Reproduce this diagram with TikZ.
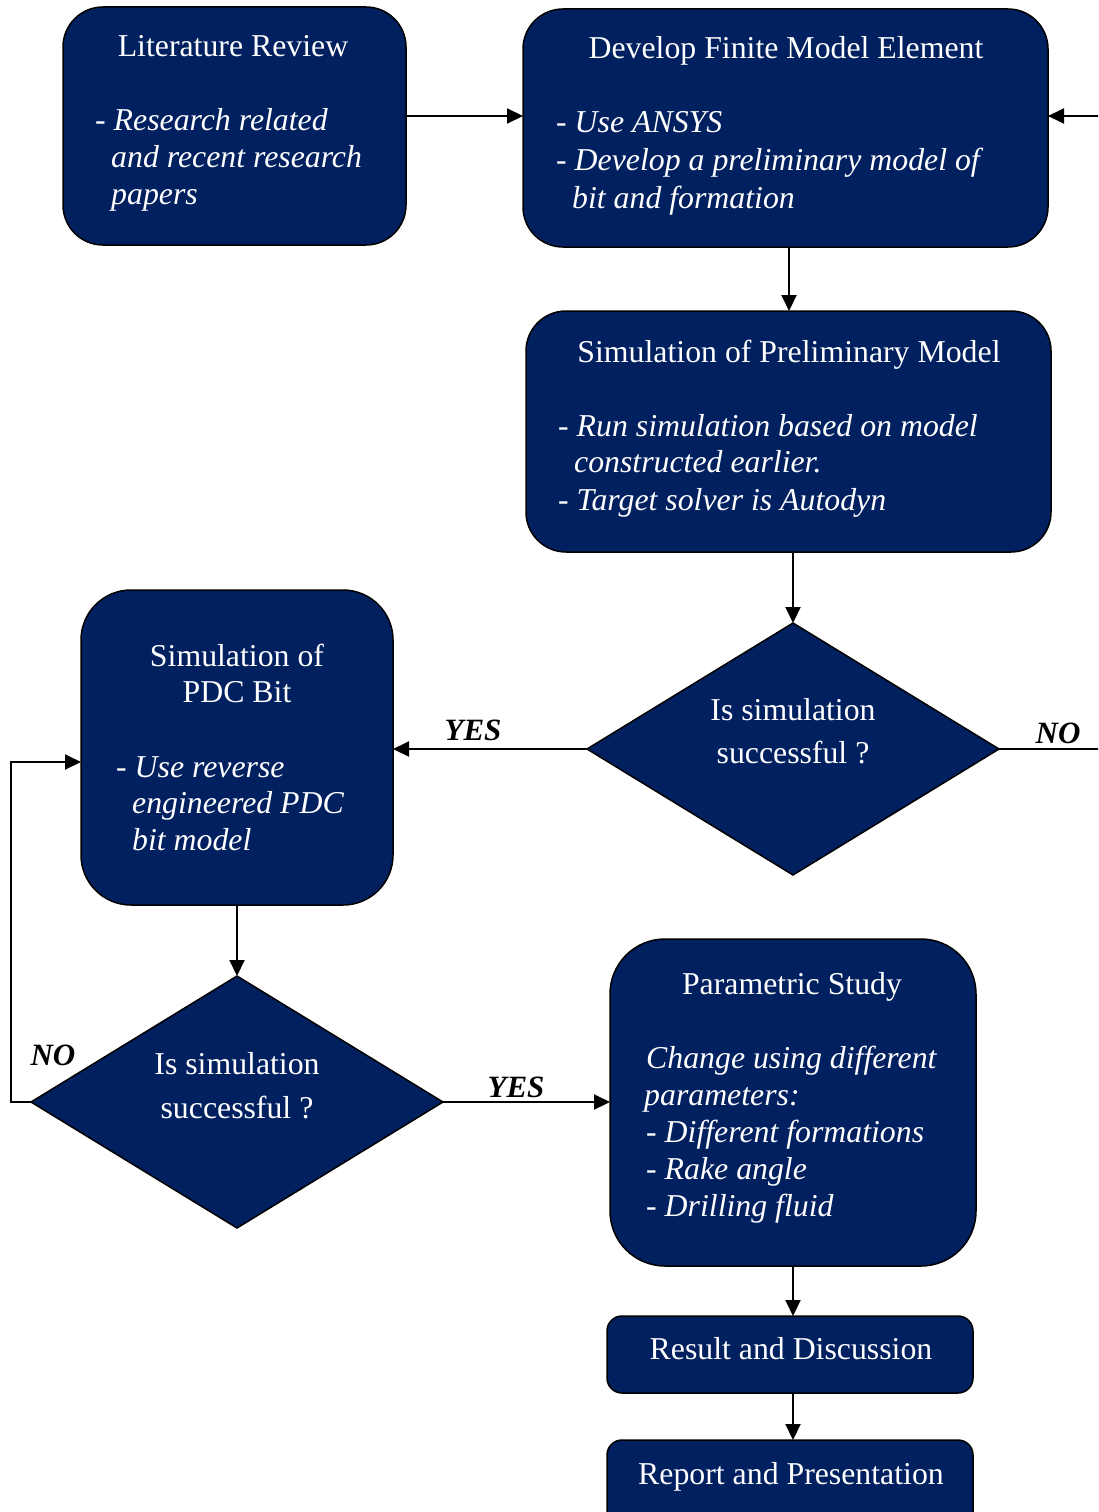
\documentclass[tikz,border=0pt]{standalone}
\usepackage{fontspec}
\setmainfont{Liberation Serif}
\usetikzlibrary{shapes.geometric,arrows.meta}
\definecolor{navy}{HTML}{002060}
\tikzset{
  box/.style={draw=black, line width=1.5pt, fill=navy, inner sep=0pt, outer sep=0pt},
  dia/.style={diamond, draw=black, line width=1.5pt, fill=navy, inner sep=0pt, outer sep=0pt, minimum width=412pt, minimum height=252pt},
  tx/.style={text=white, inner sep=0pt, font=\fontsize{31.8}{37}\selectfont},
  ti/.style={text=white, inner sep=0pt, font=\fontsize{31.8}{37}\selectfont\itshape},
  lab/.style={text=black, inner sep=0pt, font=\fontsize{31}{37}\selectfont\bfseries\itshape},
  conn/.style={line width=2pt, -{Triangle[length=16pt,width=15pt]}},
  plain/.style={line width=2pt}
}
\begin{document}
\begin{tikzpicture}[x=1pt,y=-1pt]
\clip (0,0) rectangle (1098,1512);
\useasboundingbox (0,0) rectangle (1098,1512);
% boxes
\node[box, rounded corners=40pt, minimum width=343pt, minimum height=238pt] (lit) at (234.5,126) {};
\node[box, rounded corners=40pt, minimum width=525pt, minimum height=238pt] (dev) at (785.5,128) {};
\node[box, rounded corners=40pt, minimum width=525pt, minimum height=241pt] (sim) at (788.5,431.5) {};
\node[dia] (d1) at (793,749) {};
\node[box, rounded corners=50pt, minimum width=312pt, minimum height=315pt] (pdc) at (237,747.5) {};
\node[dia] (d2) at (237,1102) {};
\node[box, rounded corners=55pt, minimum width=366pt, minimum height=327pt] (par) at (793,1102.5) {};
\node[box, rounded corners=15pt, minimum width=366pt, minimum height=77pt] (res) at (790,1354.5) {};
\node[box, rounded corners=15pt, minimum width=366pt, minimum height=110pt] (rep) at (790,1495) {};
% texts
\node[tx, anchor=base] (litT) at (233,57) {Literature Review};
\node[ti, anchor=base west] (lit1) at (95,130) {- Research related};
\node[ti, anchor=base west] (lit2) at (111,167) {and recent research};
\node[ti, anchor=base west] (lit3) at (111,204) {papers};
\node[tx, anchor=base] (devT) at (786,59) {Develop Finite Model Element};
\node[ti, anchor=base west] (dev1) at (556,132) {- Use ANSYS};
\node[ti, anchor=base west] (dev2) at (556,170) {- Develop a preliminary model of};
\node[ti, anchor=base west] (dev3) at (572,208) {bit and formation};
\node[tx, anchor=base] (simT) at (789,362) {Simulation of Preliminary Model};
\node[ti, anchor=base west] (sim1) at (558,436) {- Run simulation based on model};
\node[ti, anchor=base west] (sim2) at (574,472) {constructed earlier.};
\node[ti, anchor=base west] (sim3) at (558,510) {- Target solver is Autodyn};
\node[tx, anchor=base] (d1a) at (793,720) {Is simulation};
\node[tx, anchor=base] (d1b) at (793,763) {successful ?};
\node[tx, anchor=base] (pdcT1) at (237,666) {Simulation of};
\node[tx, anchor=base] (pdcT2) at (237,702) {PDC Bit};
\node[ti, anchor=base west] (pdc1) at (116,777) {- Use reverse};
\node[ti, anchor=base west] (pdc2) at (132,813) {engineered PDC};
\node[ti, anchor=base west] (pdc3) at (132,850) {bit model};
\node[tx, anchor=base] (d2a) at (237,1074) {Is simulation};
\node[tx, anchor=base] (d2b) at (237,1118) {successful ?};
\node[tx, anchor=base] (parT) at (792,994) {Parametric Study};
\node[ti, anchor=base west] (par1) at (646,1068) {Change using different};
\node[ti, anchor=base west] (par2) at (644,1105) {parameters:};
\node[ti, anchor=base west] (par3) at (646,1142) {- Different formations};
\node[ti, anchor=base west] (par4) at (646,1179) {- Rake angle};
\node[ti, anchor=base west] (par5) at (646,1216) {- Drilling fluid};
\node[tx, anchor=base] (resT) at (791,1359) {Result and Discussion};
\node[tx, anchor=base] (repT) at (791,1484) {Report and Presentation};
% labels
\node[lab, anchor=base] (yes1) at (473,740) {YES};
\node[lab, anchor=base] (no1) at (1058,743) {NO};
\node[lab, anchor=base] (no2) at (53,1065) {NO};
\node[lab, anchor=base] (yes2) at (516,1097) {YES};
% connector coordinates
\coordinate (rin) at (1100,116);
\coordinate (rout) at (1100,749);
\coordinate (lc1) at (11,1102);
\coordinate (lc2) at (11,762);
% connectors
\draw[conn] (lit.east |- 0,116) -- (dev.west |- 0,116);
\draw[conn] (rin) -- (dev.east |- rin);
\draw[conn] (dev.south -| 789,0) -- (sim.north -| 789,0);
\draw[conn] (sim.south -| 793,0) -- (d1.north);
\draw[conn] (d1.west) -- (pdc.east |- d1.west);
\draw[plain] (d1.east) -- (rout);
\draw[conn] (pdc.south) -- (d2.north);
\draw[conn] (d2.east) -- (par.west |- d2.east);
\draw[conn, line join=miter] (d2.west) -- (lc1) -- (lc2) -- (pdc.west |- lc2);
\draw[conn] (par.south) -- (res.north -| par.south);
\draw[conn] (res.south -| par.south) -- (rep.north -| par.south);
\end{tikzpicture}
\end{document}
